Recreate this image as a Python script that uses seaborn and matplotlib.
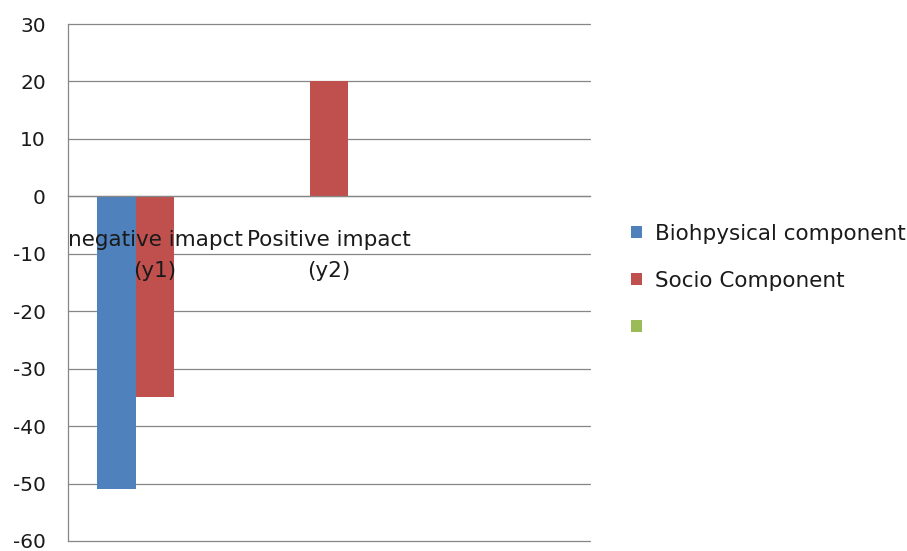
import pandas as pd
import matplotlib.pyplot as plt
import seaborn as sns
from matplotlib.patches import Patch
from matplotlib.ticker import FixedLocator

categories = ['negative imapct\n(y1)', 'Positive impact\n(y2)', '']
series = ['Biohpysical component', 'Socio Component', ' ']
biophysical = [-51, None, None]
socio = [-35, 20, None]
colors = ['#4F81BD', '#C0504D', '#9BBB59']


def generate_barchart():
    rows = []
    for name, values in zip(series[:2], [biophysical, socio]):
        for cat, val in zip(categories, values):
            if val is not None:
                rows.append({'Category': cat, 'Series': name, 'Value': val})
    df = pd.DataFrame(rows)

    sns.set_style("white")
    plt.rcParams['font.family'] = ['DejaVu Sans']
    plt.rcParams['axes.unicode_minus'] = False

    fig = plt.figure(figsize=(9.07, 5.51), dpi=100)
    ax = fig.add_axes([68 / 907, 1 - 541 / 551, 522 / 907, 517 / 551])

    sns.barplot(data=df, x='Category', y='Value', hue='Series',
                order=categories, hue_order=series, palette=colors,
                width=0.667, errorbar=None, legend=False, ax=ax,
                saturation=1, linewidth=0)

    ax.set_xlim(-0.5, 2.5)
    ax.set_ylim(-60, 30)
    ax.set_yticks(range(-60, 31, 10))
    ax.yaxis.grid(True, color='#868686', linewidth=0.9)
    for gl in ax.get_ygridlines():
        gl.set_clip_on(False)
    ax.tick_params(axis='y', length=6, color='#868686', width=0.9,
                   labelsize=14.5, labelcolor='#1a1a1a', pad=10)

    # category axis crosses at zero, boundary ticks below it
    for side in ['top', 'right']:
        ax.spines[side].set_visible(False)
    ax.spines['bottom'].set_position(('data', 0))
    ax.spines['bottom'].set_color('#868686')
    ax.spines['left'].set_color('#868686')
    ax.spines['bottom'].set_linewidth(0.9)
    ax.spines['left'].set_linewidth(0.9)
    ax.xaxis.set_minor_locator(FixedLocator([-0.5, 0.5, 1.5, 2.5]))
    ax.tick_params(axis='x', which='major', length=0, pad=24.5,
                   labelsize=15.5, labelcolor='#1a1a1a')
    ax.tick_params(axis='x', which='minor', length=6, color='#868686', width=0.9)
    for lbl in ax.get_xticklabels():
        lbl.set_linespacing(1.65)
    ax.xaxis.set_zorder(3)
    ax.set_xlabel('')
    ax.set_ylabel('')

    handles = [Patch(facecolor=c, edgecolor='none') for c in colors]
    fig.legend(handles, series, loc='upper left',
               bbox_to_anchor=(631 / 907, 1 - 224 / 551), frameon=False,
               fontsize=15.5, handlelength=0.5, handleheight=0.5,
               handletextpad=0.6, labelspacing=1.25, borderpad=0,
               borderaxespad=0, labelcolor='#1a1a1a')

    fig.savefig('out.png', dpi=100)
    plt.close(fig)


if __name__ == "__main__":
    generate_barchart()
